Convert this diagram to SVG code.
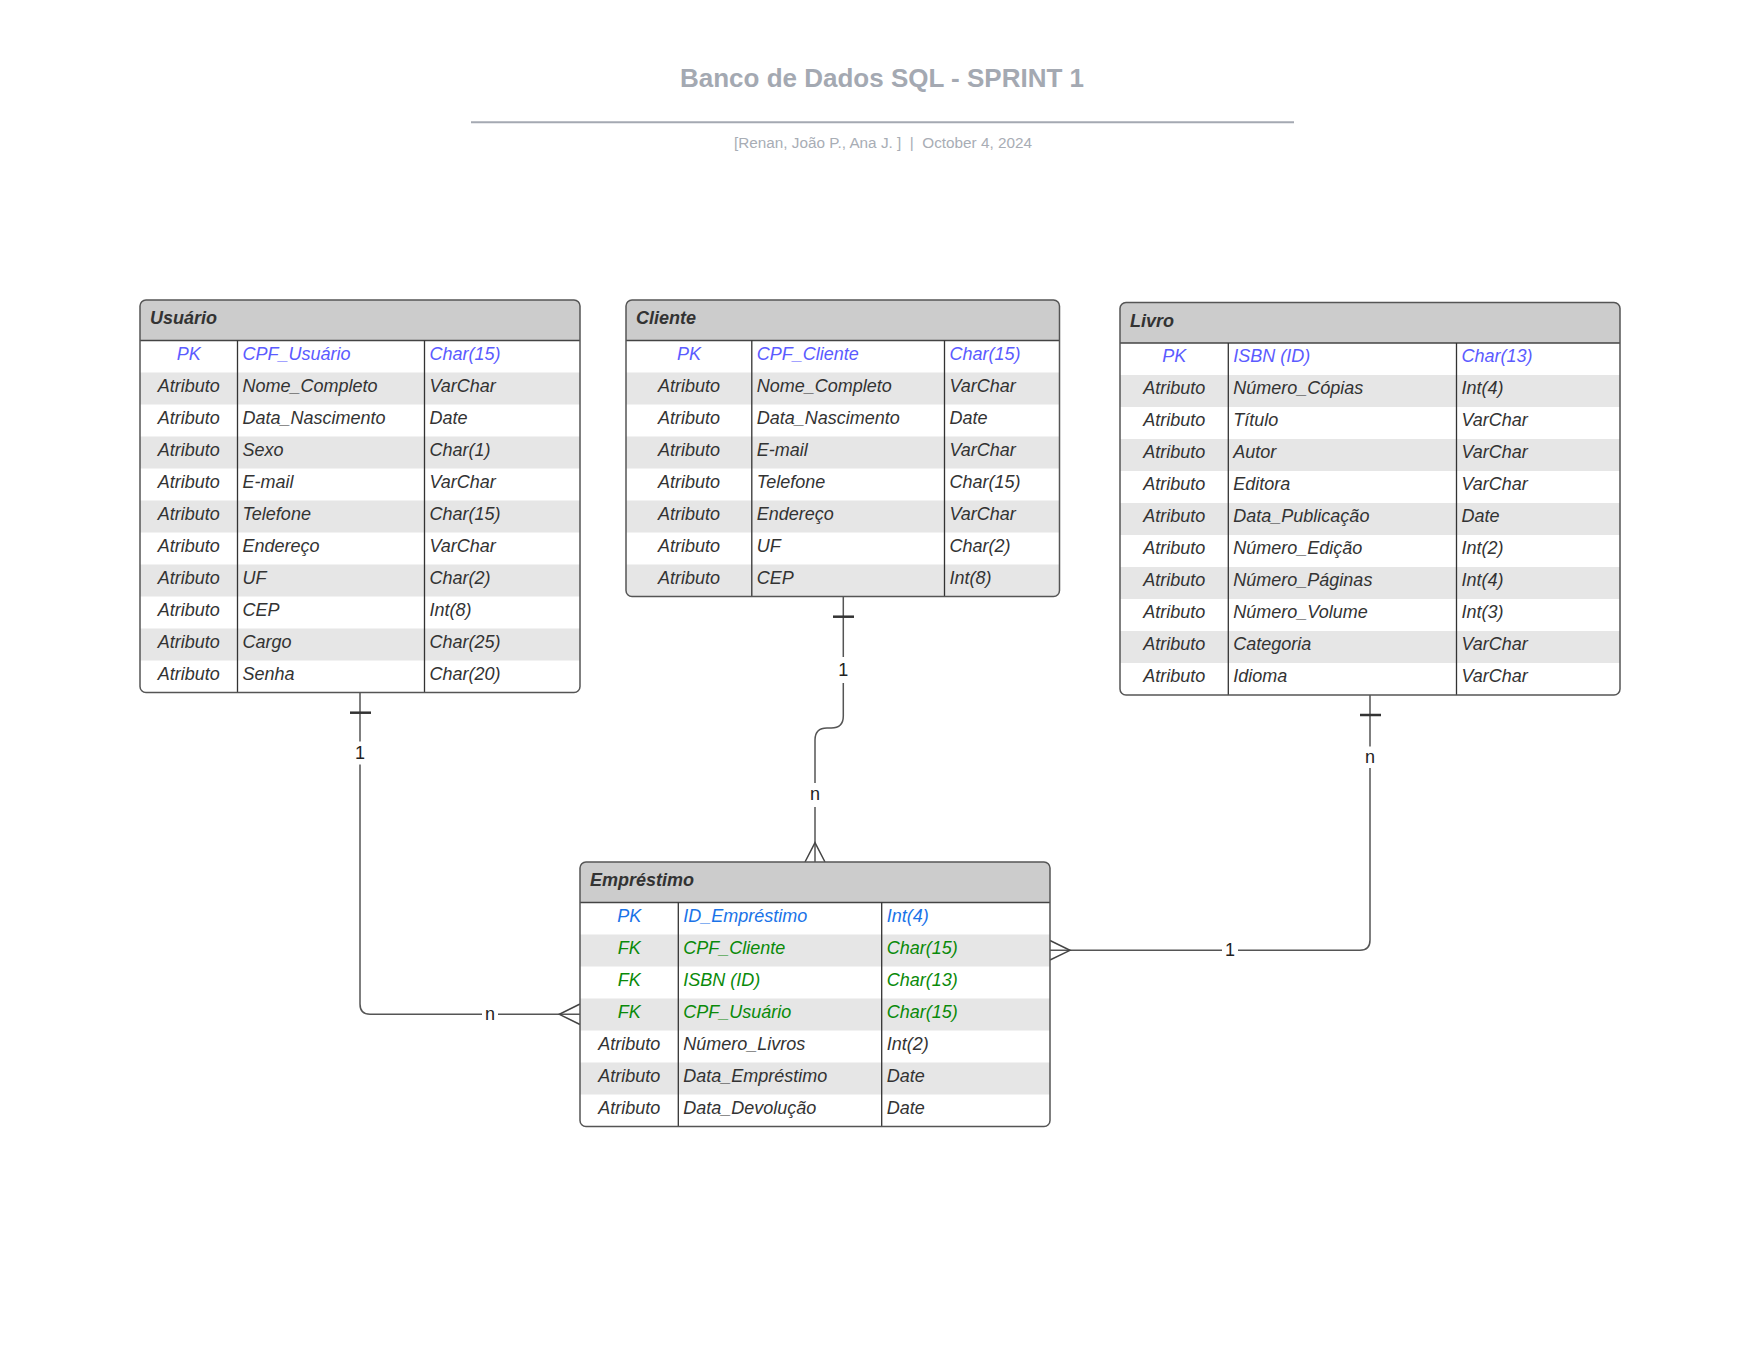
<svg xmlns="http://www.w3.org/2000/svg" width="1760" height="1360" viewBox="0 0 1760 1360">
<style>
.bg{fill:#ffffff}
.hdr{fill:#cccccc}
.alt{fill:#e6e6e6}
.frame{fill:none;stroke:#555555;stroke-width:1.5}
.hline{stroke:#444444;stroke-width:1.5}
.div{stroke:#333333;stroke-width:1.3}
.t{font-family:"Liberation Sans",Arial,sans-serif;font-size:18px;font-style:italic;fill:#333333}
.c{text-anchor:middle}
.ttl{font-weight:bold}
.pk{fill:#5b5bff}
.pk2{fill:#1a73e8}
.fk{fill:#0a8a0a}
.conn{fill:none;stroke:#555555;stroke-width:1.5}
.tick{stroke:#333333;stroke-width:2.5}
.crow{fill:none;stroke:#444444;stroke-width:1.5}
.lbl{font-family:"Liberation Sans",Arial,sans-serif;font-size:18px;fill:#222222;text-anchor:middle}
.lblbg{fill:#ffffff}
</style>
<defs>
<clipPath id="cu"><rect x="140" y="300" width="440" height="392.5" rx="6"/></clipPath>
<clipPath id="cc"><rect x="626" y="300" width="433.5" height="296.5" rx="6"/></clipPath>
<clipPath id="cl"><rect x="1120" y="302.5" width="500" height="392.5" rx="6"/></clipPath>
<clipPath id="ce"><rect x="580" y="862" width="470" height="264.5" rx="6"/></clipPath>
</defs>
<rect x="0" y="0" width="1760" height="1360" fill="#ffffff"/>

<g id="title">
<text x="882" y="86.5" font-family="'Liberation Sans',Arial,sans-serif" font-size="26" font-weight="bold" fill="#a4a9b2" text-anchor="middle">Banco de Dados SQL - SPRINT 1</text>
<line x1="471" y1="122.3" x2="1294" y2="122.3" stroke="#a4a9b2" stroke-width="2"/>
<text x="883" y="148" font-family="'Liberation Sans',Arial,sans-serif" font-size="15.3" fill="#a8adb5" text-anchor="middle" xml:space="preserve">[Renan, João P., Ana J. ]  |  October 4, 2024</text>
</g>

<g id="connectors">
<path class="conn" d="M360 692.5 V1004 Q360 1014.3 370 1014.3 H580"/>
<line class="tick" x1="350" y1="712.7" x2="371" y2="712.7"/>
<path class="crow" d="M580 1004 L559.3 1014.3 L580 1024.5"/>
<rect class="lblbg" x="352" y="741.5" width="16" height="23"/>
<text class="lbl" x="360" y="759">1</text>
<rect class="lblbg" x="482" y="1004" width="16" height="20"/>
<text class="lbl" x="490" y="1019.5">n</text>

<path class="conn" d="M843.3 596.5 V716 Q843.3 728 831.3 728 H827 Q815 728 815 740 V862"/>
<line class="tick" x1="833" y1="616.7" x2="854" y2="616.7"/>
<path class="crow" d="M805 862 L815 842.7 L825 862"/>
<rect class="lblbg" x="835" y="657" width="16" height="26"/>
<text class="lbl" x="843.3" y="676">1</text>
<rect class="lblbg" x="807" y="783" width="16" height="24"/>
<text class="lbl" x="815" y="799.5">n</text>

<path class="conn" d="M1370 695 V940 Q1370 950.3 1360 950.3 H1050"/>
<line class="tick" x1="1360" y1="715" x2="1381" y2="715"/>
<path class="crow" d="M1050 940.5 L1070 950.3 L1050 960"/>
<rect class="lblbg" x="1362" y="746.5" width="16" height="21.5"/>
<text class="lbl" x="1370" y="762.5">n</text>
<rect class="lblbg" x="1222" y="940" width="16" height="20"/>
<text class="lbl" x="1230" y="956.3">1</text>
</g>

<g id="usuario">
<g clip-path="url(#cu)">
<rect class="bg" x="140" y="300" width="440" height="392.5"/>
<rect class="hdr" x="140" y="300" width="440" height="40.5"/>
<rect class="alt" x="140" y="372.5" width="440" height="32"/>
<rect class="alt" x="140" y="436.5" width="440" height="32"/>
<rect class="alt" x="140" y="500.5" width="440" height="32"/>
<rect class="alt" x="140" y="564.5" width="440" height="32"/>
<rect class="alt" x="140" y="628.5" width="440" height="32"/>
</g>
<line class="hline" x1="140" y1="340.5" x2="580" y2="340.5"/>
<line class="div" x1="237.5" y1="340.5" x2="237.5" y2="692.5"/>
<line class="div" x1="424.5" y1="340.5" x2="424.5" y2="692.5"/>
<rect class="frame" x="140" y="300" width="440" height="392.5" rx="6"/>
<text class="t ttl" x="150" y="324">Usuário</text>
<text class="t c pk" x="188.75" y="359.5">PK</text><text class="t pk" x="242.5" y="359.5">CPF_Usuário</text><text class="t pk" x="429.5" y="359.5">Char(15)</text>
<text class="t c" x="188.75" y="391.5">Atributo</text><text class="t" x="242.5" y="391.5">Nome_Completo</text><text class="t" x="429.5" y="391.5">VarChar</text>
<text class="t c" x="188.75" y="423.5">Atributo</text><text class="t" x="242.5" y="423.5">Data_Nascimento</text><text class="t" x="429.5" y="423.5">Date</text>
<text class="t c" x="188.75" y="455.5">Atributo</text><text class="t" x="242.5" y="455.5">Sexo</text><text class="t" x="429.5" y="455.5">Char(1)</text>
<text class="t c" x="188.75" y="487.5">Atributo</text><text class="t" x="242.5" y="487.5">E-mail</text><text class="t" x="429.5" y="487.5">VarChar</text>
<text class="t c" x="188.75" y="519.5">Atributo</text><text class="t" x="242.5" y="519.5">Telefone</text><text class="t" x="429.5" y="519.5">Char(15)</text>
<text class="t c" x="188.75" y="551.5">Atributo</text><text class="t" x="242.5" y="551.5">Endereço</text><text class="t" x="429.5" y="551.5">VarChar</text>
<text class="t c" x="188.75" y="583.5">Atributo</text><text class="t" x="242.5" y="583.5">UF</text><text class="t" x="429.5" y="583.5">Char(2)</text>
<text class="t c" x="188.75" y="615.5">Atributo</text><text class="t" x="242.5" y="615.5">CEP</text><text class="t" x="429.5" y="615.5">Int(8)</text>
<text class="t c" x="188.75" y="647.5">Atributo</text><text class="t" x="242.5" y="647.5">Cargo</text><text class="t" x="429.5" y="647.5">Char(25)</text>
<text class="t c" x="188.75" y="679.5">Atributo</text><text class="t" x="242.5" y="679.5">Senha</text><text class="t" x="429.5" y="679.5">Char(20)</text>
</g>

<g id="cliente">
<g clip-path="url(#cc)">
<rect class="bg" x="626" y="300" width="433.5" height="296.5"/>
<rect class="hdr" x="626" y="300" width="433.5" height="40.5"/>
<rect class="alt" x="626" y="372.5" width="433.5" height="32"/>
<rect class="alt" x="626" y="436.5" width="433.5" height="32"/>
<rect class="alt" x="626" y="500.5" width="433.5" height="32"/>
<rect class="alt" x="626" y="564.5" width="433.5" height="32"/>
</g>
<line class="hline" x1="626" y1="340.5" x2="1059.5" y2="340.5"/>
<line class="div" x1="751.8" y1="340.5" x2="751.8" y2="596.5"/>
<line class="div" x1="944.5" y1="340.5" x2="944.5" y2="596.5"/>
<rect class="frame" x="626" y="300" width="433.5" height="296.5" rx="6"/>
<text class="t ttl" x="636" y="324">Cliente</text>
<text class="t c pk" x="688.9" y="359.5">PK</text><text class="t pk" x="756.8" y="359.5">CPF_Cliente</text><text class="t pk" x="949.5" y="359.5">Char(15)</text>
<text class="t c" x="688.9" y="391.5">Atributo</text><text class="t" x="756.8" y="391.5">Nome_Completo</text><text class="t" x="949.5" y="391.5">VarChar</text>
<text class="t c" x="688.9" y="423.5">Atributo</text><text class="t" x="756.8" y="423.5">Data_Nascimento</text><text class="t" x="949.5" y="423.5">Date</text>
<text class="t c" x="688.9" y="455.5">Atributo</text><text class="t" x="756.8" y="455.5">E-mail</text><text class="t" x="949.5" y="455.5">VarChar</text>
<text class="t c" x="688.9" y="487.5">Atributo</text><text class="t" x="756.8" y="487.5">Telefone</text><text class="t" x="949.5" y="487.5">Char(15)</text>
<text class="t c" x="688.9" y="519.5">Atributo</text><text class="t" x="756.8" y="519.5">Endereço</text><text class="t" x="949.5" y="519.5">VarChar</text>
<text class="t c" x="688.9" y="551.5">Atributo</text><text class="t" x="756.8" y="551.5">UF</text><text class="t" x="949.5" y="551.5">Char(2)</text>
<text class="t c" x="688.9" y="583.5">Atributo</text><text class="t" x="756.8" y="583.5">CEP</text><text class="t" x="949.5" y="583.5">Int(8)</text>
</g>

<g id="livro">
<g clip-path="url(#cl)">
<rect class="bg" x="1120" y="302.5" width="500" height="392.5"/>
<rect class="hdr" x="1120" y="302.5" width="500" height="40.5"/>
<rect class="alt" x="1120" y="375" width="500" height="32"/>
<rect class="alt" x="1120" y="439" width="500" height="32"/>
<rect class="alt" x="1120" y="503" width="500" height="32"/>
<rect class="alt" x="1120" y="567" width="500" height="32"/>
<rect class="alt" x="1120" y="631" width="500" height="32"/>
</g>
<line class="hline" x1="1120" y1="343" x2="1620" y2="343"/>
<line class="div" x1="1228.3" y1="343" x2="1228.3" y2="695"/>
<line class="div" x1="1456.5" y1="343" x2="1456.5" y2="695"/>
<rect class="frame" x="1120" y="302.5" width="500" height="392.5" rx="6"/>
<text class="t ttl" x="1130" y="326.5">Livro</text>
<text class="t c pk" x="1174.2" y="362">PK</text><text class="t pk" x="1233.3" y="362">ISBN (ID)</text><text class="t pk" x="1461.5" y="362">Char(13)</text>
<text class="t c" x="1174.2" y="394">Atributo</text><text class="t" x="1233.3" y="394">Número_Cópias</text><text class="t" x="1461.5" y="394">Int(4)</text>
<text class="t c" x="1174.2" y="426">Atributo</text><text class="t" x="1233.3" y="426">Título</text><text class="t" x="1461.5" y="426">VarChar</text>
<text class="t c" x="1174.2" y="458">Atributo</text><text class="t" x="1233.3" y="458">Autor</text><text class="t" x="1461.5" y="458">VarChar</text>
<text class="t c" x="1174.2" y="490">Atributo</text><text class="t" x="1233.3" y="490">Editora</text><text class="t" x="1461.5" y="490">VarChar</text>
<text class="t c" x="1174.2" y="522">Atributo</text><text class="t" x="1233.3" y="522">Data_Publicação</text><text class="t" x="1461.5" y="522">Date</text>
<text class="t c" x="1174.2" y="554">Atributo</text><text class="t" x="1233.3" y="554">Número_Edição</text><text class="t" x="1461.5" y="554">Int(2)</text>
<text class="t c" x="1174.2" y="586">Atributo</text><text class="t" x="1233.3" y="586">Número_Páginas</text><text class="t" x="1461.5" y="586">Int(4)</text>
<text class="t c" x="1174.2" y="618">Atributo</text><text class="t" x="1233.3" y="618">Número_Volume</text><text class="t" x="1461.5" y="618">Int(3)</text>
<text class="t c" x="1174.2" y="650">Atributo</text><text class="t" x="1233.3" y="650">Categoria</text><text class="t" x="1461.5" y="650">VarChar</text>
<text class="t c" x="1174.2" y="682">Atributo</text><text class="t" x="1233.3" y="682">Idioma</text><text class="t" x="1461.5" y="682">VarChar</text>
</g>

<g id="emprestimo">
<g clip-path="url(#ce)">
<rect class="bg" x="580" y="862" width="470" height="264.5"/>
<rect class="hdr" x="580" y="862" width="470" height="40.5"/>
<rect class="alt" x="580" y="934.5" width="470" height="32"/>
<rect class="alt" x="580" y="998.5" width="470" height="32"/>
<rect class="alt" x="580" y="1062.5" width="470" height="32"/>
</g>
<line class="hline" x1="580" y1="902.5" x2="1050" y2="902.5"/>
<line class="div" x1="678.3" y1="902.5" x2="678.3" y2="1126.5"/>
<line class="div" x1="881.7" y1="902.5" x2="881.7" y2="1126.5"/>
<rect class="frame" x="580" y="862" width="470" height="264.5" rx="6"/>
<text class="t ttl" x="590" y="886">Empréstimo</text>
<text class="t c pk2" x="629.2" y="922">PK</text><text class="t pk2" x="683.3" y="922">ID_Empréstimo</text><text class="t pk2" x="886.7" y="922">Int(4)</text>
<text class="t c fk" x="629.2" y="954">FK</text><text class="t fk" x="683.3" y="954">CPF_Cliente</text><text class="t fk" x="886.7" y="954">Char(15)</text>
<text class="t c fk" x="629.2" y="986">FK</text><text class="t fk" x="683.3" y="986">ISBN (ID)</text><text class="t fk" x="886.7" y="986">Char(13)</text>
<text class="t c fk" x="629.2" y="1018">FK</text><text class="t fk" x="683.3" y="1018">CPF_Usuário</text><text class="t fk" x="886.7" y="1018">Char(15)</text>
<text class="t c" x="629.2" y="1050">Atributo</text><text class="t" x="683.3" y="1050">Número_Livros</text><text class="t" x="886.7" y="1050">Int(2)</text>
<text class="t c" x="629.2" y="1082">Atributo</text><text class="t" x="683.3" y="1082">Data_Empréstimo</text><text class="t" x="886.7" y="1082">Date</text>
<text class="t c" x="629.2" y="1114">Atributo</text><text class="t" x="683.3" y="1114">Data_Devolução</text><text class="t" x="886.7" y="1114">Date</text>
</g>
</svg>
